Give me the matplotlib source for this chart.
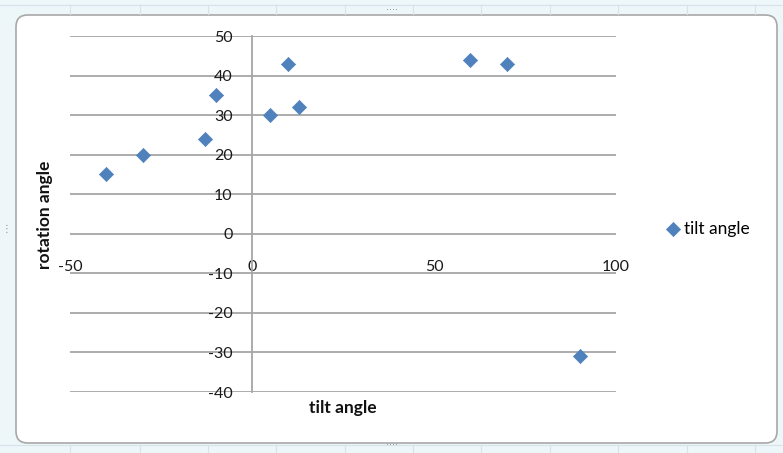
import matplotlib
matplotlib.use("Agg")
import matplotlib.pyplot as plt
from matplotlib.patches import FancyBboxPatch, Rectangle

# Measurements: tilt vs rotation angle (degrees)
tilt_angle = [-40, -30, -13, -10, 5, 10, 13, 60, 70, 90]
rotation_angle = [15, 20, 24, 35, 30, 43, 32, 44, 43, -31]

x_ticks = [-50, 0, 50, 100]
y_ticks = [-40, -30, -20, -10, 0, 10, 20, 30, 40, 50]

series_name = "tilt angle"
x_title = "tilt angle"
y_title = "rotation angle"

W, H = 783, 453
plt.rcParams['font.family'] = ['Lato', 'DejaVu Sans']
plt.rcParams['axes.unicode_minus'] = False

fig = plt.figure(figsize=(W / 100, H / 100), dpi=100)
fig.patch.set_facecolor('#EAF4F7')

# Sheet frame and chart area with rounded border
fig.patches.append(Rectangle((0, 0), 1, 1, transform=fig.transFigure,
                             facecolor='#EDF6F9', edgecolor='none', zorder=0))
for xc in [70, 140, 208, 276, 345, 413, 481, 550, 618, 687, 755]:
    fig.lines.append(plt.Line2D([xc / W, xc / W], [1 - 14 / H, 1 - 5 / H],
                                transform=fig.transFigure, color='#D6E3E8', lw=0.8))
    fig.lines.append(plt.Line2D([xc / W, xc / W], [0, 8 / H],
                                transform=fig.transFigure, color='#D6E3E8', lw=0.8))
fig.lines.append(plt.Line2D([0, 1], [1 - 5 / H, 1 - 5 / H], transform=fig.transFigure,
                            color='#D6E3E8', lw=0.8))
fig.lines.append(plt.Line2D([0, 1], [8 / H, 8 / H], transform=fig.transFigure,
                            color='#D6E3E8', lw=0.8))
fig.patches.append(FancyBboxPatch((16 / W, 10 / H), (777 - 16) / W, (438 - 10) / H,
                                  boxstyle="round,pad=0,rounding_size=0.015",
                                  transform=fig.transFigure, facecolor='white',
                                  edgecolor='#A8A8A8', lw=1.2, zorder=1,
                                  mutation_aspect=W / H))
# resize handles
for (hx, hy) in [(392, 10), (392, 445), (7, 229)]:
    fig.text(hx / W, 1 - hy / H, '····' if hx != 7 else '⋮', color='#8C8C8C',
             fontsize=7, ha='center', va='center', family='DejaVu Sans', zorder=2)

left, right, top, bottom = 70, 616, 36, 392
ax = fig.add_axes([left / W, 1 - bottom / H, (right - left) / W, (bottom - top) / H])
ax.set_facecolor('none')
ax.set_zorder(3)

ax.set_xlim(-50, 100)
ax.set_ylim(-40, 50)
ax.set_xticks(x_ticks)
ax.set_yticks(y_ticks)

ax.yaxis.grid(True, color='#A6A6A6', lw=1.3)
ax.xaxis.grid(False)
ax.set_axisbelow(True)

for s in ['top', 'right']:
    ax.spines[s].set_visible(False)
ax.spines['left'].set_position(('data', 0))
ax.spines['left'].set_color('#A6A6A6')
ax.spines['left'].set_linewidth(1.3)
ax.spines['bottom'].set_position(('data', 0))
ax.spines['bottom'].set_visible(False)

ax.tick_params(axis='both', length=0, labelsize=11.5, labelcolor='#1a1a1a')
ax.tick_params(axis='y', pad=14)
ax.tick_params(axis='x', pad=19)

ax.scatter(tilt_angle, rotation_angle, marker='D', s=52, color='#4F81BD',
           edgecolors='#4F81BD', linewidths=0.5, zorder=4, label=series_name)

fig.text((left + right) / 2 / W, 1 - 408 / H, x_title, ha='center', va='center',
         fontsize=12.5, fontweight='bold', color='#111111')
fig.text(45 / W, 1 - 215 / H, y_title, ha='center', va='center', rotation=90,
         fontsize=12.5, fontweight='bold', color='#111111')

ax.legend(loc='center left', bbox_to_anchor=(668 / W, 1 - 229 / H),
          bbox_transform=fig.transFigure, frameon=False, handlelength=0.6,
          handletextpad=0.3, borderpad=0, borderaxespad=0, fontsize=12.5,
          scatterpoints=1)

fig.savefig('out.png', dpi=100, facecolor=fig.get_facecolor())
